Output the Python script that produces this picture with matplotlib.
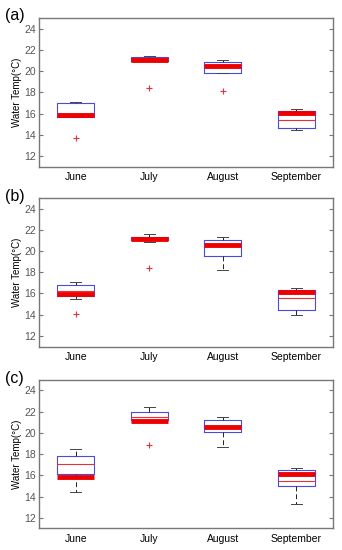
import numpy as np
from matplotlib import pyplot as plt

plt.rcParams['font.family'] = ['Liberation Sans', 'DejaVu Sans']

months = ['June', 'July', 'August', 'September']
panels = ['(a)', '(b)', '(c)']

# box statistics, one list per panel
q1 = [[15.7, 20.96, 19.8, 14.6],
      [15.73, 21.0, 19.55, 14.43],
      [16.15, 21.2, 20.1, 14.98]]
med = [[15.9, 21.2, 20.5, 15.38],
       [16.26, 21.15, 20.6, 15.57],
       [17.06, 21.49, 20.55, 15.42]]
q3 = [[17.0, 21.34, 20.83, 16.23],
      [16.8, 21.28, 21.0, 16.3],
      [17.78, 21.96, 21.17, 16.52]]
whislo = [[15.7, 20.96, 19.8, 14.47],
          [15.47, 20.84, 18.22, 13.96],
          [14.42, 21.05, 18.63, 13.29]]
whishi = [[17.13, 21.43, 21.02, 16.45],
          [17.12, 21.63, 21.28, 16.52],
          [18.47, 22.4, 21.52, 16.68]]
fliers = [[[13.72], [18.42], [18.1], []],
          [[14.05], [18.41], [], []],
          [[], [18.85], [], []]]
# thick red reference line on each box
observed = [[15.85, 21.08, 20.52, 16.07],
            [15.92, 21.16, 20.59, 16.17],
            [15.83, 21.1, 20.54, 16.11]]

fig = plt.figure(figsize=(3.42, 5.5), dpi=100)
bottoms = [0.697, 0.370, 0.0394]
label_y = [0.972, 0.643, 0.312]

for p in range(3):
    ax = fig.add_axes([0.114, bottoms[p], 0.86, 0.27])
    stats = []
    for i in range(4):
        stats.append(dict(q1=q1[p][i], med=med[p][i], q3=q3[p][i],
                          whislo=whislo[p][i], whishi=whishi[p][i],
                          fliers=fliers[p][i]))
    pos = np.arange(1, 5)
    ax.bxp(stats, positions=pos, widths=0.5, capwidths=0.15,
           boxprops=dict(color='#4a4ae0', linewidth=0.8),
           medianprops=dict(color='#e8303a', linewidth=0.8),
           whiskerprops=dict(color='#222222', linewidth=0.7, linestyle=(0, (5, 3))),
           capprops=dict(color='#444444', linewidth=0.7),
           flierprops=dict(marker='+', markeredgecolor='#e8303a', markersize=5,
                           markeredgewidth=0.8))
    ax.hlines(observed[p], pos - 0.25, pos + 0.25, colors='#ee0000', linewidth=3.5, zorder=4)

    ax.set_xlim(0.5, 4.5)
    ax.set_ylim(11, 25)
    ax.set_yticks([12, 14, 16, 18, 20, 22, 24])
    ax.set_xticks(pos)
    ax.set_xticklabels(months, fontsize=7.5, color='black')
    ax.tick_params(axis='y', labelsize=7.5, labelcolor='#555555', direction='in',
                   right=True, length=3, color='#777777', pad=2)
    ax.tick_params(axis='x', direction='in', length=0, pad=4)
    for s in ax.spines.values():
        s.set_color('#777777')
        s.set_linewidth(1.0)
    ax.set_ylabel('Water Temp(\u00b0C)', fontsize=7, labelpad=2)
    fig.text(0.015, label_y[p], panels[p], fontsize=11.5, va='center')

plt.savefig('out.png', dpi=100)
